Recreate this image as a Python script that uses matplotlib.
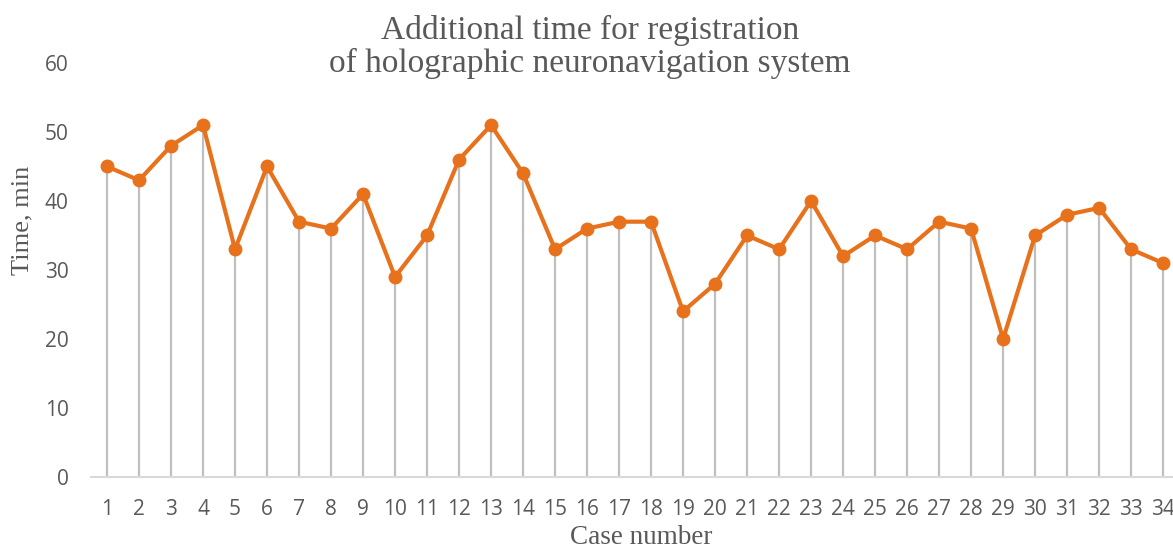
import numpy as np
import matplotlib.pyplot as plt

cases = list(range(1, 35))
times = [45, 43, 48, 51, 33, 45, 37, 36, 41, 29, 35, 46, 51, 44, 33, 36, 37, 37,
         24, 28, 35, 33, 40, 32, 35, 33, 37, 36, 20, 35, 38, 39, 33, 31]
y_ticks = [0, 10, 20, 30, 40, 50, 60]

title = "Additional time for registration\nof holographic neuronavigation system"
x_label = "Case number"
y_label = "Time, min"

orange = "#E8711C"
grey_text = "#595959"

W, H = 1173, 551
fig = plt.figure(figsize=(W / 100, H / 100), dpi=100)
# axes runs a little past the right edge, like the cropped original
ax = fig.add_axes([0.0776, 0.1343, 0.9276, 0.7514])

# drop lines from axis to each point
ax.vlines(cases, 0, times, color="#BFBFBF", linewidth=1.6, zorder=1)
ax.plot(cases, times, color=orange, linewidth=3, marker="o", markersize=9,
        zorder=3)

ax.set_xlim(0.5, 34.5)
ax.set_ylim(0, 60)
ax.set_xticks(cases)
ax.set_xticklabels([str(c) for c in cases])
ax.set_yticks(y_ticks)

for side in ["top", "right", "left"]:
    ax.spines[side].set_visible(False)
ax.spines["bottom"].set_color("#D9D9D9")
ax.spines["bottom"].set_linewidth(1.5)
ax.tick_params(axis="both", length=0, labelsize=15, labelcolor=grey_text,
               labelfontfamily="Open Sans")
ax.tick_params(axis="x", pad=16)
ax.tick_params(axis="y", pad=16)

# axis titles placed by hand (the original has them off-centre)
fig.text(641 / W, 1 - 544 / H, x_label, ha="center", va="baseline",
         fontsize=19.5, color=grey_text, family="Liberation Serif")
fig.text(22 / W, 1 - 220 / H, y_label, ha="center", va="center", rotation=90,
         fontsize=19, color=grey_text, family="Liberation Serif")

fig.text(0.503, 1 - 72 / H, title, ha="center", va="baseline", fontsize=24,
         color=grey_text, family="Liberation Serif", linespacing=1.1)

fig.savefig("out.png", dpi=100)
